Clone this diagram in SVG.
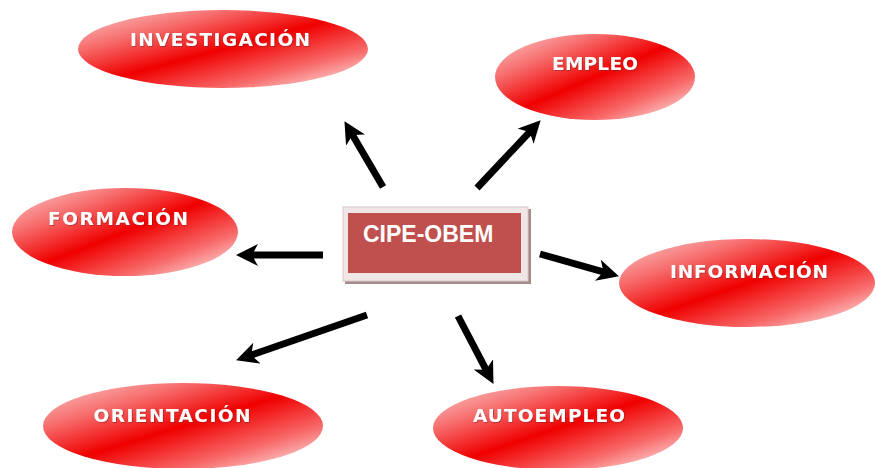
<svg xmlns="http://www.w3.org/2000/svg" width="876" height="468" viewBox="0 0 876 468">
<style>
.lbl{font-family:"DejaVu Sans","Verdana",sans-serif;font-weight:bold;font-size:18.5px;fill:#ffffff;text-anchor:middle;filter:url(#ts)}
.oval{fill:url(#rg)}
.arr{stroke:#000;stroke-width:7;fill:none;marker-end:url(#ah)}
.ctr{font-family:"Liberation Sans",Arial,sans-serif;font-weight:bold;font-size:23px;fill:#ffffff}
</style>
<defs>
<linearGradient id="rg" x1="0" y1="0" x2="1" y2="1">
<stop offset="0" stop-color="#fbd0d0"/>
<stop offset="0.25" stop-color="#f77070"/>
<stop offset="0.5" stop-color="#f00000"/>
<stop offset="0.75" stop-color="#f86a6a"/>
<stop offset="1" stop-color="#ffffff"/>
</linearGradient>
<filter id="ts" x="-10%" y="-30%" width="120%" height="160%">
<feDropShadow dx="0.8" dy="0.8" stdDeviation="0.5" flood-color="#7a2020" flood-opacity="0.6"/>
</filter>
<marker id="ah" viewBox="0 0 22 22" refX="13" refY="11" markerWidth="22" markerHeight="22" markerUnits="userSpaceOnUse" orient="auto">
<path d="M0,0 L22,11 L0,22 L6,11 Z" fill="#000"/>
</marker>
</defs>
<rect width="876" height="468" fill="#ffffff"/>

<g id="investigacion">
<ellipse class="oval" cx="223" cy="49" rx="145" ry="39"/>
<text class="lbl" x="220" y="46" textLength="180" lengthAdjust="spacing">INVESTIGACIÓN</text>
</g>
<g id="empleo">
<ellipse class="oval" cx="595" cy="77" rx="100" ry="43"/>
<text class="lbl" x="595" y="70" textLength="86" lengthAdjust="spacing">EMPLEO</text>
</g>
<g id="formacion">
<ellipse class="oval" cx="125" cy="232" rx="113" ry="44"/>
<text class="lbl" x="118" y="225" textLength="140" lengthAdjust="spacing">FORMACIÓN</text>
</g>
<g id="informacion">
<ellipse class="oval" cx="747" cy="283" rx="128" ry="44"/>
<text class="lbl" x="749" y="278" textLength="158" lengthAdjust="spacing">INFORMACIÓN</text>
</g>
<g id="orientacion">
<ellipse class="oval" cx="183" cy="426" rx="140" ry="43"/>
<text class="lbl" x="172" y="422" textLength="157" lengthAdjust="spacing">ORIENTACIÓN</text>
</g>
<g id="autoempleo">
<ellipse class="oval" cx="558" cy="428" rx="125" ry="42"/>
<text class="lbl" x="549" y="422" textLength="152" lengthAdjust="spacing">AUTOEMPLEO</text>
</g>

<g id="cipe-obem">
<rect x="345" y="209" width="186" height="75" fill="#a58a8a"/>
<rect x="343" y="207" width="185" height="74" fill="#f1e6e6" stroke="#d8c8c8" stroke-width="1"/>
<rect x="348" y="213" width="173" height="60" fill="#c0504d"/>
<text class="ctr" x="363" y="242">CIPE-OBEM</text>
</g>

<g id="connectors">
<path class="arr" d="M383,187 L349,128.9"/>
<path class="arr" d="M477,188 L534.5,126.8"/>
<path class="arr" d="M323,255 L245,255"/>
<path class="arr" d="M540,254 L610.3,273.8"/>
<path class="arr" d="M367,315 L244.6,357.4"/>
<path class="arr" d="M458,316 L489.3,375.9"/>
</g>
</svg>
